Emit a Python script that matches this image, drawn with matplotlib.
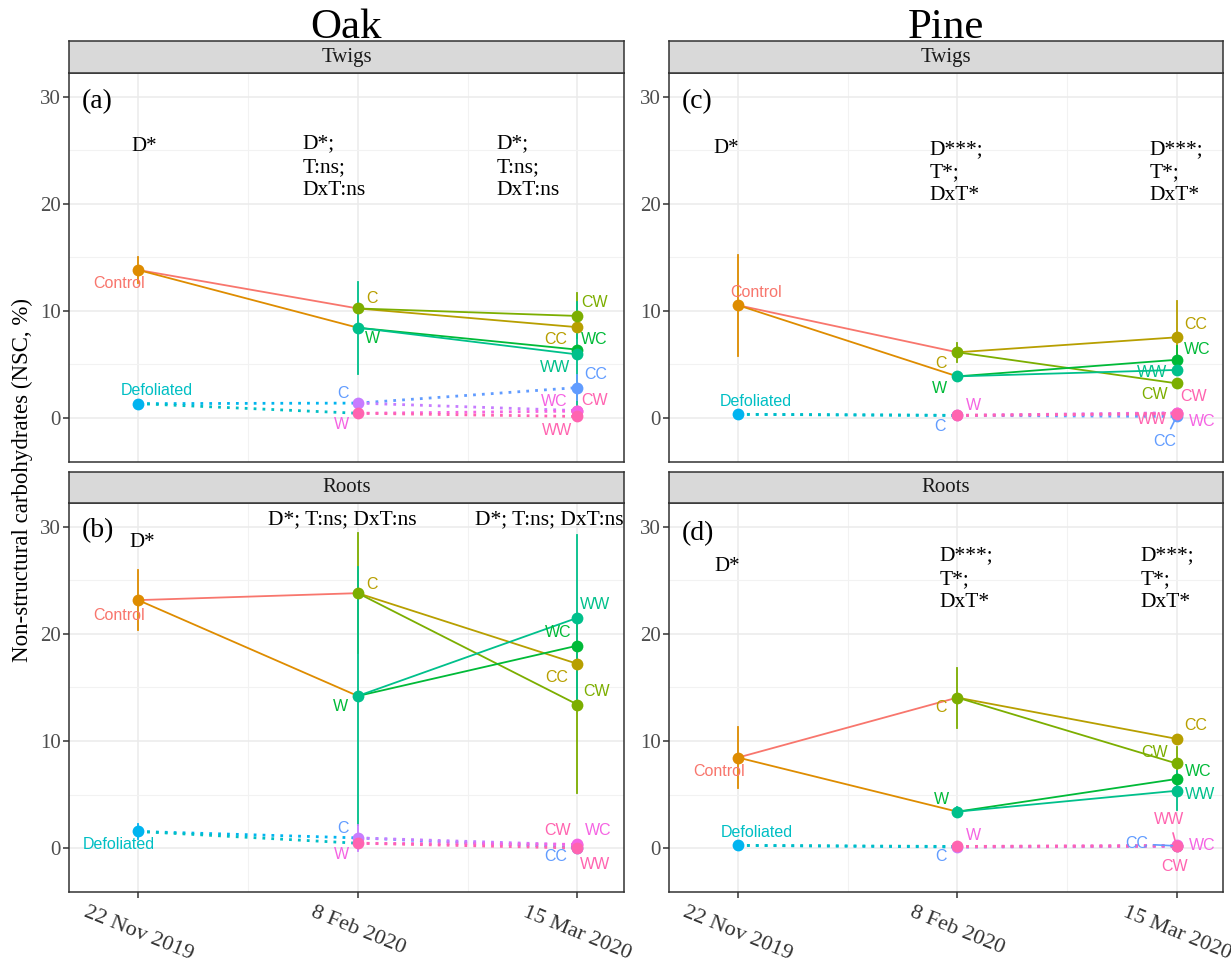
import matplotlib.pyplot as plt

plt.rcParams['font.family'] = ['Liberation Serif', 'DejaVu Serif']

W, H = 1231, 963
LABEL_FONT = ['Liberation Sans', 'DejaVu Sans']

dates = ["22 Nov 2019", "8 Feb 2020", "15 Mar 2020"]
species = ["Oak", "Pine"]
tissues = ["Twigs", "Roots"]

# date 1: [Control, Defoliated]
# date 2: [C, W] for the foliated (fol) and the defoliated (def) trees
# date 3: [CC, CW, WC, WW] for each group
oak_twigs_d1 = [13.8, 1.3]
oak_twigs_d1_err = [1.2, 0.0]
oak_twigs_d2_fol = [10.2, 8.4]
oak_twigs_d2_fol_err = [0.0, 4.3]
oak_twigs_d2_def = [1.35, 0.4]
oak_twigs_d2_def_err = [0.0, 0.0]
oak_twigs_d3_fol = [8.45, 9.5, 6.35, 5.9]
oak_twigs_d3_fol_err = [0.0, 2.1, 0.0, 4.9]
oak_twigs_d3_def = [2.8, 0.65, 0.6, 0.1]
oak_twigs_d3_def_err = [1.2, 0.0, 0.0, 0.0]

oak_roots_d1 = [23.15, 1.55]
oak_roots_d1_err = [2.8, 0.7]
oak_roots_d2_fol = [23.8, 14.2]
oak_roots_d2_fol_err = [5.6, 12.0]
oak_roots_d2_def = [0.95, 0.45]
oak_roots_d2_def_err = [1.2, 0.0]
oak_roots_d3_fol = [17.2, 13.4, 18.9, 21.5]
oak_roots_d3_fol_err = [0.0, 8.3, 0.0, 7.7]
oak_roots_d3_def = [0.05, 0.3, 0.35, 0.0]
oak_roots_d3_def_err = [0.0, 0.0, 0.0, 0.0]

pine_twigs_d1 = [10.5, 0.3]
pine_twigs_d1_err = [4.7, 0.0]
pine_twigs_d2_fol = [6.1, 3.85]
pine_twigs_d2_fol_err = [0.9, 0.0]
pine_twigs_d2_def = [0.2, 0.2]
pine_twigs_d2_def_err = [0.0, 0.0]
pine_twigs_d3_fol = [7.5, 3.2, 5.4, 4.45]
pine_twigs_d3_fol_err = [3.4, 0.0, 1.25, 0.0]
pine_twigs_d3_def = [0.1, 0.45, 0.4, 0.35]
pine_twigs_d3_def_err = [0.0, 0.0, 0.0, 0.0]

pine_roots_d1 = [8.45, 0.25]
pine_roots_d1_err = [2.85, 0.0]
pine_roots_d2_fol = [14.05, 3.4]
pine_roots_d2_fol_err = [2.8, 0.4]
pine_roots_d2_def = [0.1, 0.15]
pine_roots_d2_def_err = [0.0, 0.0]
pine_roots_d3_fol = [10.2, 7.9, 6.45, 5.35]
pine_roots_d3_fol_err = [0.0, 1.5, 0.0, 1.8]
pine_roots_d3_def = [0.2, 0.15, 0.25, 0.2]
pine_roots_d3_def_err = [0.0, 0.0, 0.0, 0.0]

panel_letters = ["(a)", "(b)", "(c)", "(d)"]
stats_d1 = "D*"
stats_twigs_oak = "D*;\nT:ns;\nDxT:ns"
stats_roots_oak = "D*; T:ns; DxT:ns"
stats_pine = "D***;\nT*;\nDxT*"

# colours (ggplot hue palette)
fol_line_cols = ['#F8766D', '#DE8C00', '#B79F00', '#7CAE00', '#00BA38', '#00C08B']
def_line_cols = ['#00B4F0', '#00BFC4', '#619CFF', '#C77CFF', '#F564E3', '#FF64B0']
d1_pt_cols = ['#DE8C00', '#00B4F0']
d2_fol_pt_cols = ['#7CAE00', '#00C08B']
d2_def_pt_cols = ['#C77CFF', '#FF64B0']
d3_fol_pt_cols = ['#B79F00', '#7CAE00', '#00BA38', '#00C08B']
d3_def_pt_cols = ['#619CFF', '#FF64B0', '#F564E3', '#FF64B0']
lbl_cols = {'Control': '#F8766D', 'Defoliated': '#00BFC4',
            'C': '#B79F00', 'W': '#00BA38', 'Cd': '#619CFF', 'Wd': '#F564E3',
            'CC': '#B79F00', 'CW': '#7CAE00', 'WC': '#00BA38', 'WW': '#00C08B',
            'CCd': '#619CFF', 'CWd': '#FF64B0', 'WCd': '#F564E3', 'WWd': '#FF64B0'}

# label offsets in pixels (dx right, dy up), repel-style placement
offs_a = {'Control': (-19, -14), 'Defoliated': (19, 13), 'C': (14, 10), 'W': (15, -11),
          'Cd': (-15, 10), 'Wd': (-16, -11), 'CC': (-22, -12), 'CW': (17, 13),
          'WC': (17, 10), 'WW': (-22, -13), 'CCd': (18, 13), 'CWd': (17, 10),
          'WCd': (-23, 10), 'WWd': (-20, -14)}
offs_b = {'Control': (-19, -15), 'Defoliated': (-19, -13), 'C': (14, 9), 'W': (-17, -11),
          'Cd': (-15, 9), 'Wd': (-16, -11), 'CC': (-21, -14), 'CW': (19, 13),
          'WC': (-19, 13), 'WW': (18, 13), 'CCd': (-22, -9), 'CWd': (-20, 14),
          'WCd': (21, 14), 'WWd': (18, -16)}
offs_c = {'Control': (18, 13), 'Defoliated': (18, 13), 'C': (-16, -11), 'W': (-18, -12),
          'Cd': (-17, -11), 'Wd': (16, 10), 'CC': (19, 13), 'CW': (-22, -11),
          'WC': (21, 10), 'WW': (-24, -3), 'CCd': (-12, -25), 'CWd': (17, 16),
          'WCd': (26, -8), 'WWd': (-24, -6)}
offs_d = {'Control': (-19, -14), 'Defoliated': (19, 13), 'C': (-16, -10), 'W': (-16, 12),
          'Cd': (-16, -10), 'Wd': (16, 11), 'CC': (19, 13), 'CW': (-22, 11),
          'WC': (22, 7), 'WW': (24, -4), 'CCd': (-40, 2), 'CWd': (-2, -20),
          'WCd': (26, 0), 'WWd': (-7, 26)}
segment_labels = {'c': ['CCd'], 'd': ['CCd', 'WWd']}

X = [1, 2, 3]
XLIM = (0.685, 3.212)
YLIM = (-4.13, 32.19)


def px_axes(left, top, right, bottom):
    return fig.add_axes([left / W, 1 - bottom / H, (right - left) / W, (bottom - top) / H])


def draw_panel(ax, d1, d1e, d2f, d2fe, d2d, d2de, d3f, d3fe, d3d, d3de, offs, seg):
    # lines: foliated solid, defoliated dotted
    for first, mid, last, cols, ls, lw in [
            (d1[0], d2f, d3f, fol_line_cols, '-', 1.3),
            (d1[1], d2d, d3d, def_line_cols, (0, (1, 2.2)), 2.0)]:
        ax.plot([X[0], X[1]], [first, mid[0]], color=cols[0], ls=ls, lw=lw, zorder=2)
        ax.plot([X[0], X[1]], [first, mid[1]], color=cols[1], ls=ls, lw=lw, zorder=2)
        ax.plot([X[1], X[2]], [mid[0], last[0]], color=cols[2], ls=ls, lw=lw, zorder=2)
        ax.plot([X[1], X[2]], [mid[0], last[1]], color=cols[3], ls=ls, lw=lw, zorder=2)
        ax.plot([X[1], X[2]], [mid[1], last[2]], color=cols[4], ls=ls, lw=lw, zorder=2)
        ax.plot([X[1], X[2]], [mid[1], last[3]], color=cols[5], ls=ls, lw=lw, zorder=2)

    pts = [(X[0], d1, d1e, d1_pt_cols), (X[1], d2f, d2fe, d2_fol_pt_cols),
           (X[1], d2d, d2de, d2_def_pt_cols), (X[2], d3f, d3fe, d3_fol_pt_cols),
           (X[2], d3d, d3de, d3_def_pt_cols)]
    for x, vals, errs, cols in pts:
        for v, e, c in zip(vals, errs, cols):
            if e > 0:
                ax.plot([x, x], [v - e, v + e], color=c, lw=1.3, zorder=3)
    for x, vals, errs, cols in pts:
        for v, c in zip(vals, cols):
            ax.plot(x, v, 'o', color=c, ms=8.5, mec='none', zorder=4)

    names = [('Control', X[0], d1[0]), ('Defoliated', X[0], d1[1]),
             ('C', X[1], d2f[0]), ('W', X[1], d2f[1]),
             ('Cd', X[1], d2d[0]), ('Wd', X[1], d2d[1]),
             ('CC', X[2], d3f[0]), ('CW', X[2], d3f[1]), ('WC', X[2], d3f[2]), ('WW', X[2], d3f[3]),
             ('CCd', X[2], d3d[0]), ('CWd', X[2], d3d[1]), ('WCd', X[2], d3d[2]), ('WWd', X[2], d3d[3])]
    for key, x, v in names:
        txt = key[:-1] if key.endswith('d') and key != 'Defoliated' else key
        kw = {}
        if key in seg:
            kw['arrowprops'] = dict(arrowstyle='-', color=lbl_cols[key], lw=1.2,
                                    shrinkA=2, shrinkB=3)
        ax.annotate(txt, (x, v), xytext=offs[key], textcoords='offset pixels',
                    ha='center', va='center', color=lbl_cols[key], fontsize=11.5,
                    family=LABEL_FONT, zorder=5, **kw)


def style_axes(ax, bottom):
    ax.set_xlim(*XLIM)
    ax.set_ylim(*YLIM)
    ax.set_yticks([0, 10, 20, 30])
    ax.set_yticks([5, 15, 25], minor=True)
    ax.set_xticks(X)
    ax.set_xticks([1.5, 2.5], minor=True)
    ax.grid(which='major', color='#EBEBEB', lw=1.1, zorder=0)
    ax.grid(which='minor', color='#F2F2F2', lw=0.8, zorder=0)
    ax.set_axisbelow(True)
    for s in ax.spines.values():
        s.set_color('#333333')
        s.set_linewidth(1.1)
    ax.tick_params(which='minor', length=0)
    ax.tick_params(axis='y', which='major', length=4, color='#333333', width=1.1,
                   labelsize=15, labelcolor='#4D4D4D', pad=2)
    if bottom:
        ax.set_xticklabels(dates)
        ax.tick_params(axis='x', which='major', length=4, color='#333333', width=1.1,
                       labelsize=16, labelcolor='#333333', pad=4)
        for t in ax.get_xticklabels():
            t.set_rotation(-22)
            t.set_ha('center')
            t.set_va('top')
    else:
        ax.tick_params(axis='x', which='major', length=0, labelbottom=False)


def strip(left, top, right, bottom, label):
    s = px_axes(left, top, right, bottom)
    s.set_facecolor('#D9D9D9')
    s.set_xticks([])
    s.set_yticks([])
    for sp in s.spines.values():
        sp.set_color('#333333')
        sp.set_linewidth(1.1)
    s.text(0.5, 0.5, label, ha='center', va='center', fontsize=15, color='#1A1A1A',
           transform=s.transAxes)


fig = plt.figure(figsize=(W / 100, H / 100), dpi=100)

cols_px = [(69, 624), (669, 1223)]
rows_px = [(41, 73.3, 461.7), (471.7, 503.3, 892.3)]

panel_data = {
    'a': (oak_twigs_d1, oak_twigs_d1_err, oak_twigs_d2_fol, oak_twigs_d2_fol_err,
          oak_twigs_d2_def, oak_twigs_d2_def_err, oak_twigs_d3_fol, oak_twigs_d3_fol_err,
          oak_twigs_d3_def, oak_twigs_d3_def_err),
    'b': (oak_roots_d1, oak_roots_d1_err, oak_roots_d2_fol, oak_roots_d2_fol_err,
          oak_roots_d2_def, oak_roots_d2_def_err, oak_roots_d3_fol, oak_roots_d3_fol_err,
          oak_roots_d3_def, oak_roots_d3_def_err),
    'c': (pine_twigs_d1, pine_twigs_d1_err, pine_twigs_d2_fol, pine_twigs_d2_fol_err,
          pine_twigs_d2_def, pine_twigs_d2_def_err, pine_twigs_d3_fol, pine_twigs_d3_fol_err,
          pine_twigs_d3_def, pine_twigs_d3_def_err),
    'd': (pine_roots_d1, pine_roots_d1_err, pine_roots_d2_fol, pine_roots_d2_fol_err,
          pine_roots_d2_def, pine_roots_d2_def_err, pine_roots_d3_fol, pine_roots_d3_fol_err,
          pine_roots_d3_def, pine_roots_d3_def_err),
}
panel_offs = {'a': offs_a, 'b': offs_b, 'c': offs_c, 'd': offs_d}

# (letter pos, D* pos, stats blocks: (x, y, text, ha))
notes = {
    'a': ((0.745, 29.5), (0.97, 25.3),
          [(1.75, 23.4, stats_twigs_oak, 'left'), (2.631, 23.4, stats_twigs_oak, 'left')]),
    'b': ((0.745, 29.6), (0.96, 28.5),
          [(1.93, 30.65, stats_roots_oak, 'center'), (2.87, 30.65, stats_roots_oak, 'center')]),
    'c': ((0.742, 29.5), (0.886, 25.2),
          [(1.873, 22.9, stats_pine, 'left'), (2.877, 22.9, stats_pine, 'left')]),
    'd': ((0.742, 29.4), (0.89, 26.3),
          [(1.918, 25.1, stats_pine, 'left'), (2.836, 25.1, stats_pine, 'left')]),
}

keys = [['a', 'c'], ['b', 'd']]
for r, (stop, atop, abot) in enumerate(rows_px):
    for c, (left, right) in enumerate(cols_px):
        k = keys[r][c]
        ax = px_axes(left, atop, right, abot)
        style_axes(ax, bottom=(r == 1))
        draw_panel(ax, *panel_data[k], panel_offs[k], segment_labels.get(k, []))
        letter_pos, d1_pos, blocks = notes[k]
        ax.text(*letter_pos, panel_letters['abcd'.index(k)], fontsize=20, ha='left',
                va='center', color='black')
        ax.text(*d1_pos, stats_d1, fontsize=15, ha='left', va='center', color='black')
        for x, y, t, ha in blocks:
            ax.text(x, y, t, fontsize=15.5, ha=ha, va='center', color='black',
                    linespacing=1.3, clip_on=False, zorder=6)
        strip(left, stop, right, atop, tissues[r])

for c, (left, right) in enumerate(cols_px):
    fig.text((left + right) / 2 / W, 1 - 38 / H, species[c], ha='center', va='baseline',
             fontsize=31, color='black')

fig.text(22 / W, 1 - 480 / H, "Non-structural carbohydrates (NSC, %)", rotation=90,
         ha='center', va='center', fontsize=16.5, color='black')

fig.savefig('out.png', dpi=100)
